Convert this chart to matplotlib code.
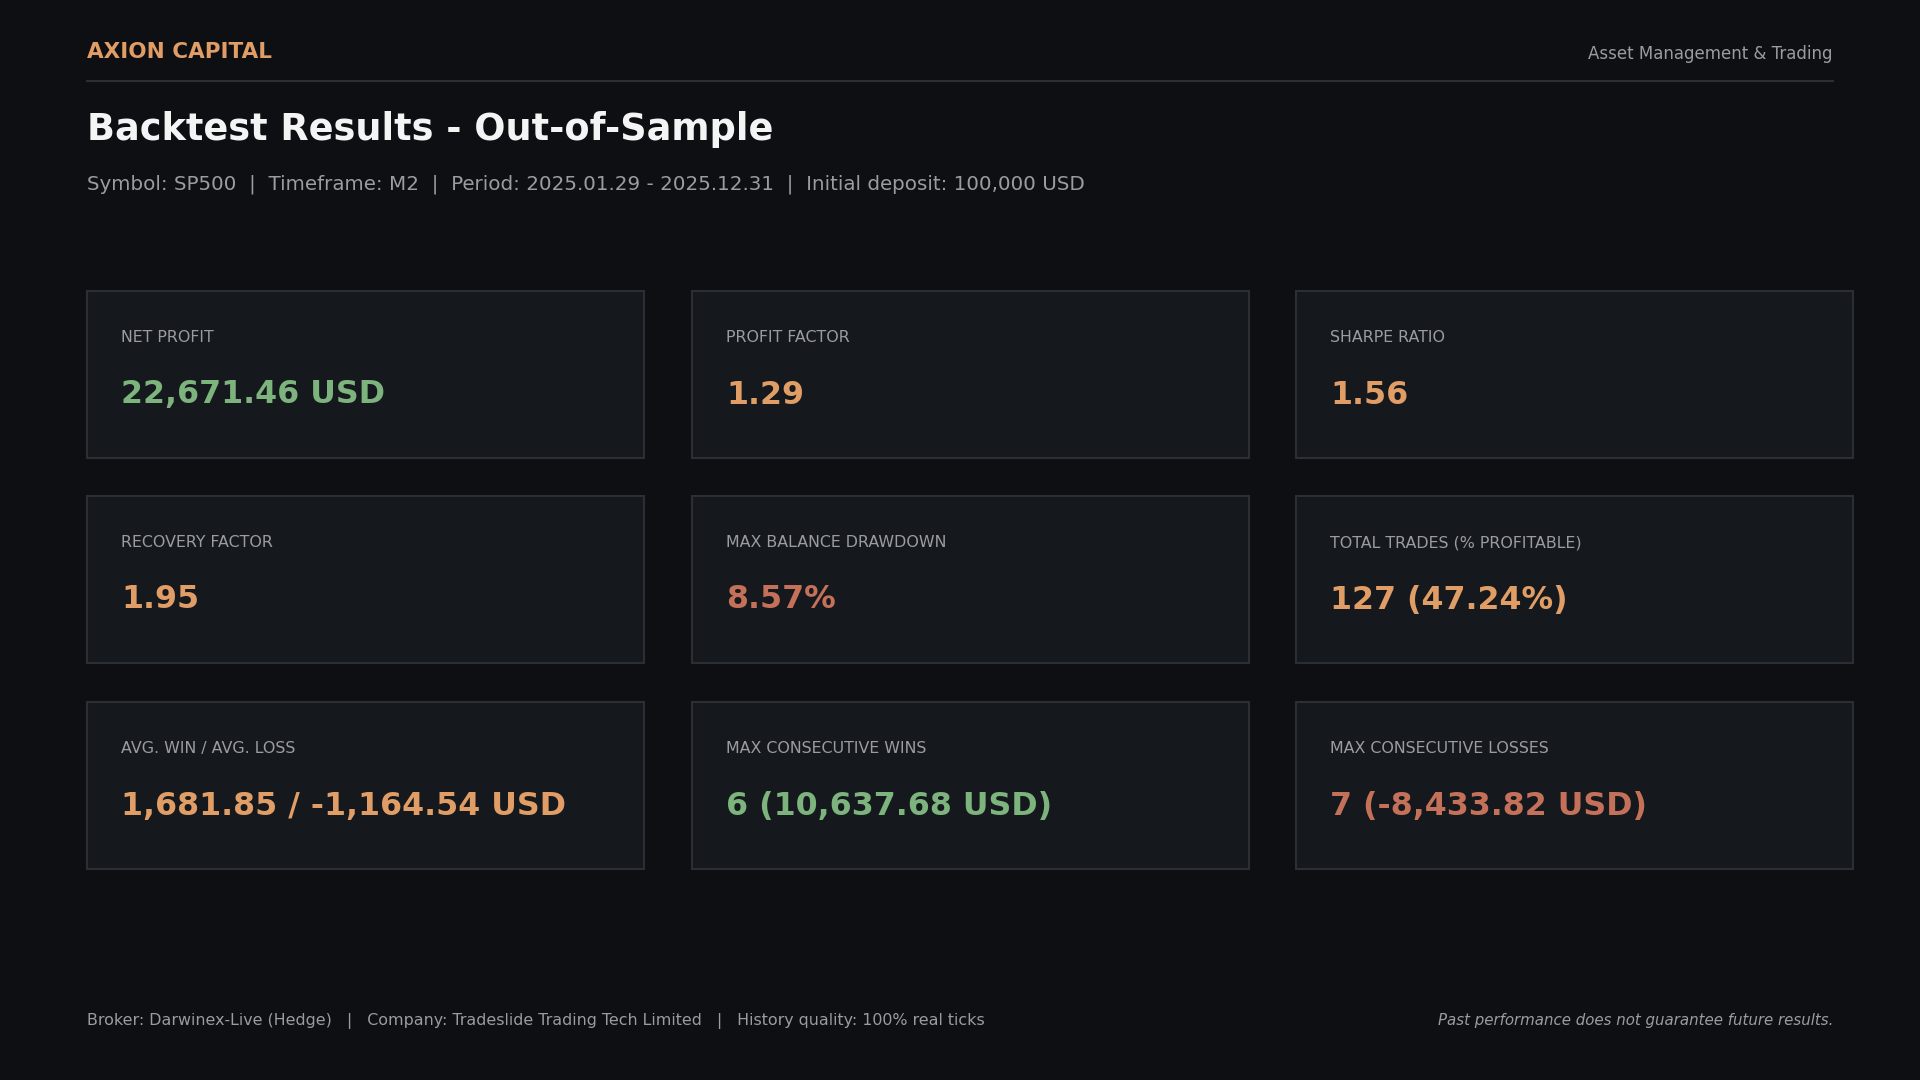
import matplotlib
matplotlib.use("Agg")
import matplotlib.pyplot as plt
from matplotlib.patches import Rectangle

plt.rcParams['font.family'] = ['DejaVu Sans']

BG = "#0d0f13"
CARD = "#15181d"
EDGE = "#2b2e34"
ORANGE = "#e09d65"
GREEN = "#7db37c"
RED = "#c5715a"
GRAY = "#9a9ca1"
WHITE = "#f4f4f4"

brand = "AXION CAPITAL"
tagline = "Asset Management & Trading"
title = "Backtest Results - Out-of-Sample"
subtitle = "Symbol: SP500  |  Timeframe: M2  |  Period: 2025.01.29 - 2025.12.31  |  Initial deposit: 100,000 USD"
footer_left = "Broker: Darwinex-Live (Hedge)   |   Company: Tradeslide Trading Tech Limited   |   History quality: 100% real ticks"
footer_right = "Past performance does not guarantee future results."

metric_labels = ["NET PROFIT", "PROFIT FACTOR", "SHARPE RATIO",
                 "RECOVERY FACTOR", "MAX BALANCE DRAWDOWN", "TOTAL TRADES (% PROFITABLE)",
                 "AVG. WIN / AVG. LOSS", "MAX CONSECUTIVE WINS", "MAX CONSECUTIVE LOSSES"]
metric_values = ["22,671.46 USD", "1.29", "1.56",
                 "1.95", "8.57%", "127 (47.24%)",
                 "1,681.85 / -1,164.54 USD", "6 (10,637.68 USD)", "7 (-8,433.82 USD)"]
metric_tones = ["pos", "neu", "neu",
                "neu", "neg", "neu",
                "neu", "pos", "neg"]
tone_colors = {"pos": GREEN, "neu": ORANGE, "neg": RED}

W, H = 1920, 1080
fig = plt.figure(figsize=(19.2, 10.8), dpi=100, facecolor=BG)
ax = fig.add_axes([0, 0, 1, 1])
ax.set_xlim(0, W)
ax.set_ylim(H, 0)
ax.axis("off")
ax.set_facecolor(BG)

L, R = 87, 1833
ax.text(L, 52, brand, color=ORANGE, fontsize=15.5, fontweight="bold", va="center", ha="left")
ax.text(R, 54, tagline, color=GRAY, fontsize=12, va="center", ha="right")
ax.plot([L, R], [81, 81], color="#2c2e33", lw=1.5)
ax.text(L, 129, title, color=WHITE, fontsize=26.4, fontweight="bold", va="center", ha="left")
ax.text(L, 184, subtitle, color=GRAY, fontsize=14.3, va="center", ha="left")

col_x = [87, 692, 1296]
row_y = [291, 496, 702]
cw, ch = 557, 167
for i, (lab, val, tone) in enumerate(zip(metric_labels, metric_values, metric_tones)):
    r, c = divmod(i, 3)
    x0, y0 = col_x[c], row_y[r]
    ax.add_patch(Rectangle((x0, y0), cw, ch, facecolor=CARD, edgecolor=EDGE, lw=1.5))
    ax.text(x0 + 34, y0 + 46.5, lab, color=GRAY, fontsize=11.4, va="center", ha="left")
    ax.text(x0 + 34, y0 + 104, val, color=tone_colors[tone], fontsize=22.8, fontweight="bold",
            va="center", ha="left")

ax.text(L, 1021, footer_left, color=GRAY, fontsize=11.45, va="center", ha="left")
ax.text(R, 1021, footer_right, color=GRAY, fontsize=10.8, style="italic", va="center", ha="right")

fig.savefig("out.png", dpi=100, facecolor=BG)
